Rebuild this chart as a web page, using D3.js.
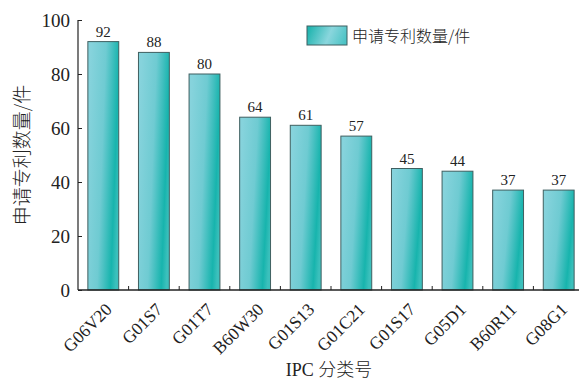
<!DOCTYPE html>
<html>
<head>
<meta charset="utf-8">
<script src="https://cdn.jsdelivr.net/npm/d3@7"></script>
<style>
  html, body { margin: 0; padding: 0; background: #fff; }
  svg { display: block; }
</style>
</head>
<body>
<svg id="chart" width="579" height="383"></svg>
<script>
// IPC classes and patent application counts
const categories = ["G06V20", "G01S7", "G01T7", "B60W30", "G01S13", "G01C21", "G01S17", "G05D1", "B60R11", "G08G1"];
const counts = [92, 88, 80, 64, 61, 57, 45, 44, 37, 37];
const yTicks = [0, 20, 40, 60, 80, 100];
const seriesName = "申请专利数量/件";
const yTitle = "申请专利数量/件";

const svg = d3.select("#chart");
const margin = { left: 78, top: 20, bottom: 93 };
const H = 383;
const x0 = margin.left, x1 = 584;
const yBase = H - margin.bottom;

const x = d3.scaleBand().domain(categories).range([x0, x1]).paddingInner(0.39).paddingOuter(0.195);
const y = d3.scaleLinear().domain([0, 100]).range([yBase, margin.top]);

const serif = "'Liberation Serif', 'DejaVu Serif', serif";
const cjk = "'Noto Sans CJK SC', sans-serif";

// bar fill: light cyan on the left fading to deep teal on the right
const defs = svg.append("defs");
const grad = defs.append("linearGradient").attr("id", "barGrad")
  .attr("x1", "0").attr("y1", "0.35").attr("x2", "1").attr("y2", "0.65");
grad.append("stop").attr("offset", "0").attr("stop-color", "#86d3dc");
grad.append("stop").attr("offset", "0.45").attr("stop-color", "#6fcbd2");
grad.append("stop").attr("offset", "0.85").attr("stop-color", "#17b4ad");
grad.append("stop").attr("offset", "1").attr("stop-color", "#3cc0bc");

const legGrad = defs.append("linearGradient").attr("id", "legGrad")
  .attr("x1", "0").attr("y1", "0.4").attr("x2", "1").attr("y2", "0.6");
legGrad.append("stop").attr("offset", "0").attr("stop-color", "#22b5b0");
legGrad.append("stop").attr("offset", "0.55").attr("stop-color", "#8ad6dd");
legGrad.append("stop").attr("offset", "1").attr("stop-color", "#4cc3c5");

// bars
svg.append("g").selectAll("rect").data(categories).join("rect")
  .attr("x", d => x(d))
  .attr("y", (d, i) => y(counts[i]))
  .attr("width", x.bandwidth())
  .attr("height", (d, i) => yBase - y(counts[i]))
  .attr("fill", "url(#barGrad)")
  .attr("stroke", "#3f5f60")
  .attr("stroke-width", 1);

// value labels
svg.append("g").selectAll("text").data(categories).join("text")
  .attr("x", d => x(d) + x.bandwidth() / 2)
  .attr("y", (d, i) => y(counts[i]) - 5)
  .attr("text-anchor", "middle")
  .attr("font-family", serif)
  .attr("font-size", 15)
  .attr("fill", "#222")
  .text((d, i) => counts[i]);

// y axis
const yAxis = svg.append("g").attr("transform", `translate(${x0},0)`)
  .call(d3.axisRight(y).tickValues(yTicks).tickSize(4).tickFormat(d3.format("d")));
yAxis.select(".domain").attr("d", `M0,${margin.top}V${yBase}`).attr("stroke", "#222").attr("stroke-width", 1.2);
yAxis.selectAll(".tick line").attr("stroke", "#222");
yAxis.selectAll(".tick text")
  .attr("x", -8).attr("text-anchor", "end")
  .attr("font-family", serif).attr("font-size", 19).attr("fill", "#222");

// x axis: small upward ticks at band boundaries
const xAxis = svg.append("g");
xAxis.append("line").attr("x1", x0).attr("x2", x1).attr("y1", yBase).attr("y2", yBase)
  .attr("stroke", "#222").attr("stroke-width", 1.4);
const step = x.step();
const bounds = categories.slice(1).map(d => x(d) - (step - x.bandwidth()) / 2);
xAxis.selectAll("line.tk").data(bounds).join("line").attr("class", "tk")
  .attr("x1", d => d).attr("x2", d => d).attr("y1", yBase).attr("y2", yBase - 4)
  .attr("stroke", "#222");

// rotated category labels
xAxis.selectAll("text").data(categories).join("text")
  .attr("transform", d => `translate(${x(d) + x.bandwidth() / 2 + 1},${yBase + 12}) rotate(-45)`)
  .attr("text-anchor", "end")
  .attr("dy", "0.7em")
  .attr("font-family", serif)
  .attr("font-size", 17.5)
  .attr("fill", "#222")
  .text(d => d);

// axis titles
svg.append("text")
  .attr("x", 329).attr("y", 376)
  .attr("text-anchor", "middle")
  .attr("font-family", serif).attr("font-size", 18).attr("fill", "#222")
  .text("IPC ")
  .append("tspan").attr("font-family", cjk).attr("font-weight", 300).text("分类号");

svg.append("text")
  .attr("transform", `translate(29,155) rotate(-90)`)
  .attr("text-anchor", "middle")
  .attr("font-family", cjk).attr("font-weight", 300).attr("font-size", 19).attr("fill", "#222")
  .text(yTitle);

// legend
const leg = svg.append("g").attr("transform", "translate(307,26)");
leg.append("rect").attr("width", 40).attr("height", 19)
  .attr("fill", "url(#legGrad)").attr("stroke", "#3f5f60");
leg.append("text").attr("x", 45).attr("y", 15.5)
  .attr("font-family", cjk).attr("font-weight", 300).attr("font-size", 16).attr("fill", "#222")
  .text(seriesName);
</script>
</body>
</html>
